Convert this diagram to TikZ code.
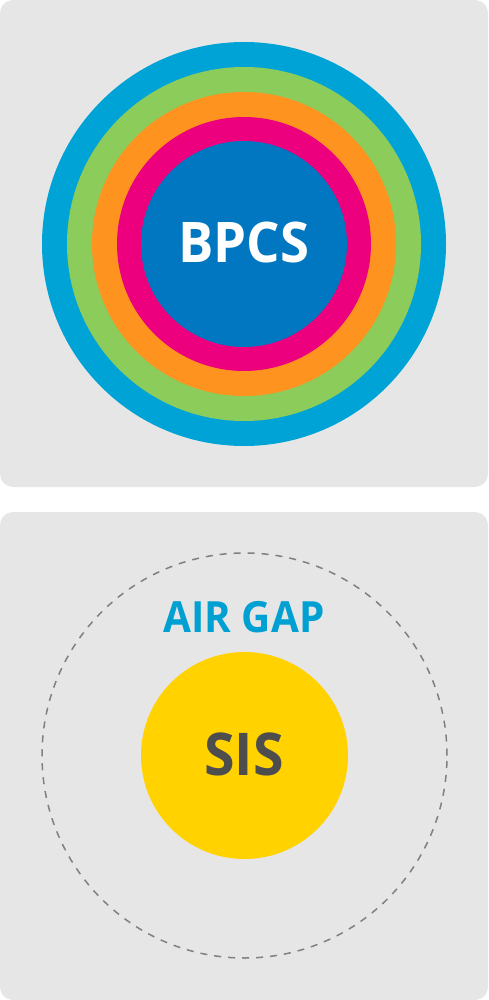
\documentclass[tikz,border=0pt]{standalone}
\usepackage{fontspec}
\setmainfont{Open Sans}
\newfontfamily\labelfont[FakeStretch=0.94]{Open Sans}
\definecolor{panelgray}{RGB}{230,230,230}
\definecolor{ringcyan}{RGB}{0,163,214}
\definecolor{ringgreen}{RGB}{140,204,90}
\definecolor{ringorange}{RGB}{255,147,32}
\definecolor{ringpink}{RGB}{236,0,126}
\definecolor{coreblue}{RGB}{0,119,192}
\definecolor{sisyellow}{RGB}{255,210,0}
\definecolor{gaptext}{RGB}{0,160,210}
\definecolor{sistext}{RGB}{77,77,77}
\definecolor{dashgray}{RGB}{128,128,128}
\tikzset{
	panel/.style={fill=panelgray, rounded corners=13pt},
	ring/.style={circle, inner sep=0pt, minimum size=#1*2pt},
	label/.style={inner sep=0pt}
}
\begin{document}
\begin{tikzpicture}[x=1pt,y=1pt,yscale=-1,xscale=1]
	\useasboundingbox (0,0) rectangle (488,1000);

	%Shape: Panels
	\fill [panel] (0,0) rectangle (488,487) ;
	\fill [panel] (0,512) rectangle (488,1000) ;

	%Shape: Circles of the BPCS
	\node [ring=202, fill=ringcyan] (cyanring) at (244,244) {};
	\node [ring=177, fill=ringgreen] (greenring) at (cyanring.center) {};
	\node [ring=152, fill=ringorange] (orangering) at (cyanring.center) {};
	\node [ring=127, fill=ringpink] (pinkring) at (cyanring.center) {};
	\node [ring=103, fill=coreblue] (bpcscore) at (cyanring.center) {};

	%Shape: Air gap and SIS
	\node [ring=202.5, draw=dashgray, line width=1.5pt, dash pattern={on 7pt off 7pt}] (airgap) at (244.5,755.5) {};
	\node [ring=103.5, fill=sisyellow] (siscore) at (airgap.center) {};

	% Text Node
	\node [label, text=white, font=\labelfont\bfseries\fontsize{56}{60}\selectfont] (bpcslabel) at (244,242) {BPCS};
	% Text Node
	\node [label, text=gaptext, font=\labelfont\bfseries\fontsize{43}{46}\selectfont] (gaplabel) at (244,617.5) {AIR GAP};
	% Text Node
	\node [label, text=sistext, font=\labelfont\bfseries\fontsize{59}{62}\selectfont] (sislabel) at (244,754) {SIS};

\end{tikzpicture}
\end{document}
